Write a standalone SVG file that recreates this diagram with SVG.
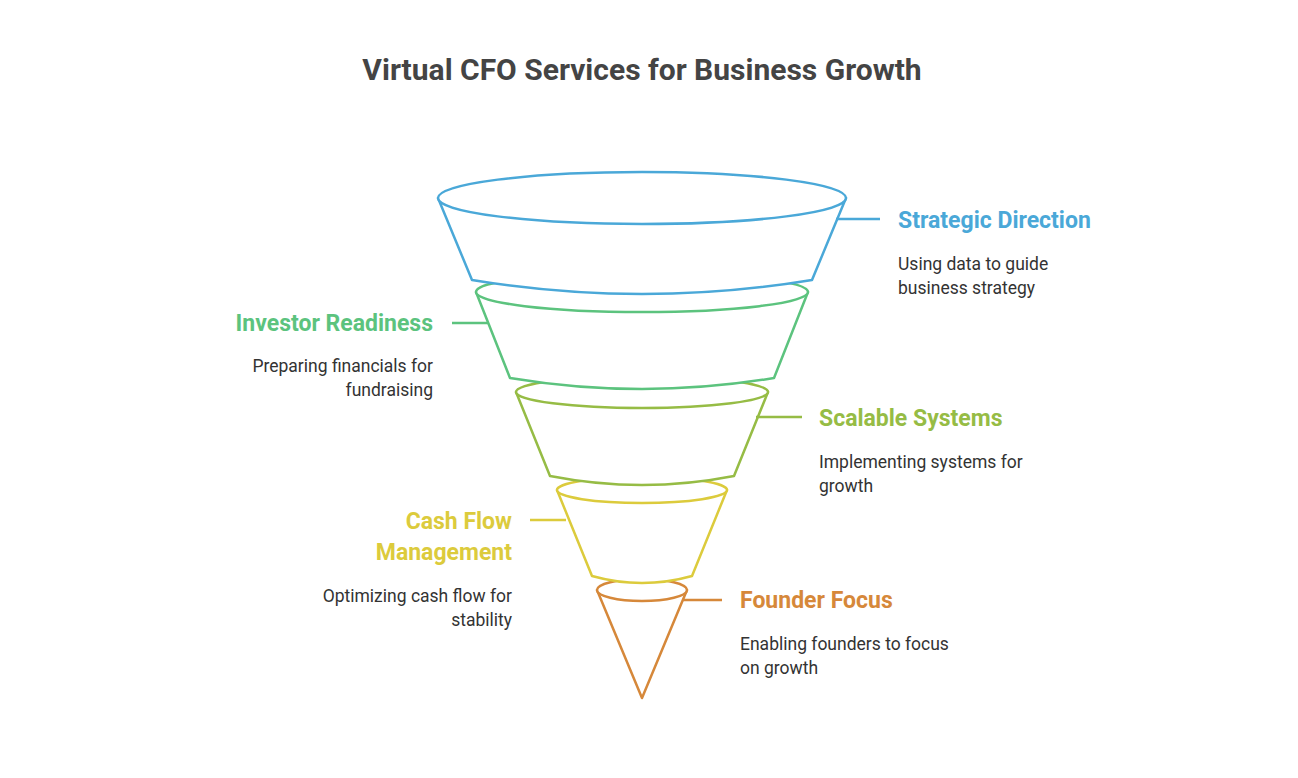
<svg xmlns="http://www.w3.org/2000/svg" width="1298" height="778" viewBox="0 0 1298 778">
<style>
text{font-family:Roboto,"Liberation Sans",sans-serif}
.t{font-size:30px;font-weight:bold;fill:#444}
.h{font-size:23px;font-weight:bold}
.d{font-size:17.5px;fill:#333}
.s{fill:#fff;stroke-width:2.5;stroke-linejoin:round}
.c{stroke-width:2.5;fill:none}
</style>
<rect width="1298" height="778" fill="#fff"/>
<text class="t" x="642" y="80" text-anchor="middle">Virtual CFO Services for Business Growth</text>
<g id="founder-focus">
<path class="s" stroke="#d6883a" d="M597 590 L642 698 L687 590 Z"/>
<ellipse class="s" stroke="#d6883a" cx="642" cy="590" rx="45" ry="11"/>
</g>
<g id="cash-flow">
<path class="s" stroke="#dccb3c" d="M557 490 L592 576 Q642 590 692 576 L727 490 Z"/>
<ellipse class="s" stroke="#dccb3c" cx="642" cy="490" rx="85" ry="13"/>
</g>
<g id="scalable-systems">
<path class="s" stroke="#96bc45" d="M516 392 L550 476 Q642 494 734 476 L768 392 Z"/>
<ellipse class="s" stroke="#96bc45" cx="642" cy="392" rx="126" ry="16"/>
</g>
<g id="investor-readiness">
<path class="s" stroke="#5cc37e" d="M476 292 L510 378 Q642 400 774 378 L808 292 Z"/>
<ellipse class="s" stroke="#5cc37e" cx="642" cy="292" rx="166" ry="20"/>
</g>
<g id="strategic-direction">
<path class="s" stroke="#4aa8d8" d="M438 198 L472 280 Q642 308 812 280 L846 198 Z"/>
<ellipse class="s" stroke="#4aa8d8" cx="642" cy="198" rx="204" ry="26"/>
</g>
<g id="connectors">
<line class="c" stroke="#4aa8d8" x1="836" y1="219" x2="880" y2="219"/>
<line class="c" stroke="#5cc37e" x1="452" y1="323" x2="488" y2="323"/>
<line class="c" stroke="#96bc45" x1="756" y1="417" x2="802" y2="417"/>
<line class="c" stroke="#dccb3c" x1="530" y1="520" x2="566" y2="520"/>
<line class="c" stroke="#d6883a" x1="683" y1="600" x2="722" y2="600"/>
</g>
<g id="labels">
<text class="h" x="898" y="228" fill="#4aa8d8">Strategic Direction</text>
<text class="d" x="898" y="270">Using data to guide</text>
<text class="d" x="898" y="294">business strategy</text>
<text class="h" x="433" y="331" fill="#5cc37e" text-anchor="end">Investor Readiness</text>
<text class="d" x="433" y="372" text-anchor="end">Preparing financials for</text>
<text class="d" x="433" y="396" text-anchor="end">fundraising</text>
<text class="h" x="819" y="426" fill="#96bc45">Scalable Systems</text>
<text class="d" x="819" y="468">Implementing systems for</text>
<text class="d" x="819" y="492">growth</text>
<text class="h" x="512" y="529" fill="#dccb3c" text-anchor="end">Cash Flow</text>
<text class="h" x="512" y="560" fill="#dccb3c" text-anchor="end">Management</text>
<text class="d" x="512" y="602" text-anchor="end">Optimizing cash flow for</text>
<text class="d" x="512" y="626" text-anchor="end">stability</text>
<text class="h" x="740" y="608" fill="#d6883a">Founder Focus</text>
<text class="d" x="740" y="650">Enabling founders to focus</text>
<text class="d" x="740" y="674">on growth</text>
</g>
</svg>
